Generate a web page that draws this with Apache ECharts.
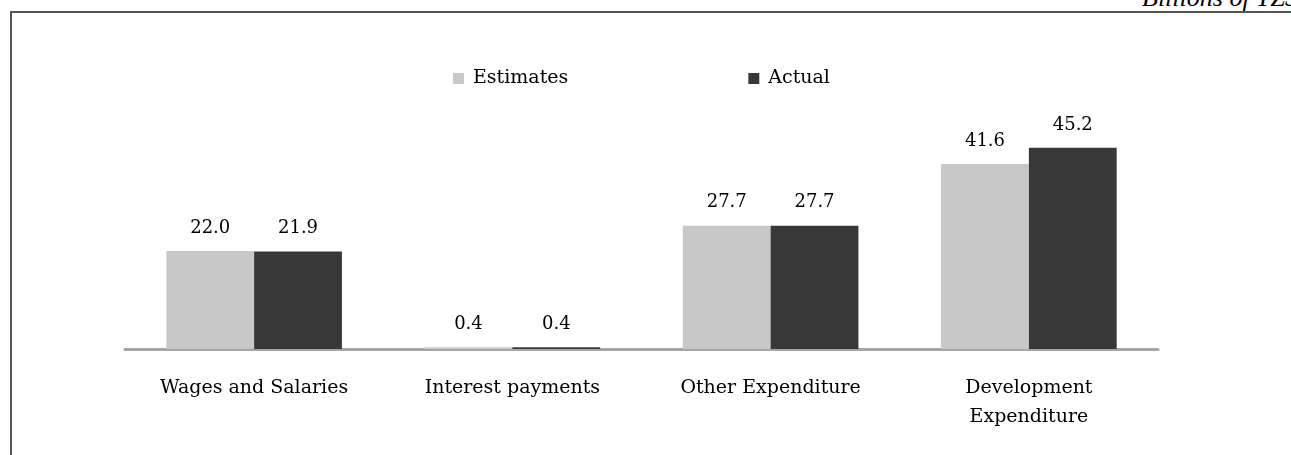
<!DOCTYPE html>
<html>
<head>
	<meta charset="utf-8">
	<title>Expenditure</title>
	<script src="https://cdn.jsdelivr.net/npm/echarts@6/dist/echarts.min.js"></script>
	<style>
		body { margin: 0; background: #fff; }
		#wrap { position: relative; width: 1291px; height: 455px; overflow: hidden; }
		#frame { position: absolute; left: 10px; top: 11px; width: 1300px; height: 460px;
			border-left: 2px solid #555; border-top: 2px solid #555; }
		#unit { position: absolute; left: 1142px; top: -17px; line-height: 26px; white-space: nowrap;
			font: italic 26px "Liberation Serif", serif; color: #000; }
		#main { position: absolute; left: 0; top: 0; width: 1291px; height: 455px; }
	</style>
</head>
<body>
	<div id="wrap">
		<div id="frame"></div>
		<div id="unit">Billions of TZS</div>
		<div id="main"></div>
	</div>
	<script type="text/javascript">
		var categories = ['Wages and Salaries', 'Interest payments', 'Other Expenditure', 'Development\nExpenditure'];
		var estimates = [22.0, 0.4, 27.7, 41.6];
		var actual = [21.9, 0.4, 27.7, 45.2];

		var font = '"DejaVu Serif", serif';
		var myChart = echarts.init(document.getElementById('main'));

		var labelOpt = {
			show: true,
			position: 'top',
			distance: 14,
			fontFamily: font,
			fontSize: 18,
			color: '#000',
			formatter: function (p) { return p.value.toFixed(1); }
		};

		myChart.setOption({
			animation: false,
			legend: {
				top: 64,
				left: 448,
				itemGap: 180,
				itemWidth: 11,
				itemHeight: 11,
				icon: 'rect',
				textStyle: { fontFamily: font, fontSize: 19, color: '#000', padding: [0, 0, 0, 4] },
				data: ['Estimates', 'Actual']
			},
			grid: { left: 125, right: 133, top: 82, bottom: 106, containLabel: false },
			xAxis: {
				type: 'category',
				data: categories,
				axisLine: { lineStyle: { color: '#a6a6a6', width: 3 } },
				axisTick: { show: false },
				axisLabel: { margin: 25, fontFamily: font, fontSize: 19, color: '#000', lineHeight: 29, interval: 0 }
			},
			yAxis: {
				type: 'value',
				min: 0,
				max: 60,
				show: false
			},
			series: [{
				name: 'Estimates',
				type: 'bar',
				data: estimates,
				barGap: '0%',
				barCategoryGap: '32%',
				itemStyle: { color: '#c8c8c8' },
				label: labelOpt
			}, {
				name: 'Actual',
				type: 'bar',
				data: actual,
				itemStyle: { color: '#383838' },
				label: labelOpt
			}]
		});
	</script>
</body>
</html>
